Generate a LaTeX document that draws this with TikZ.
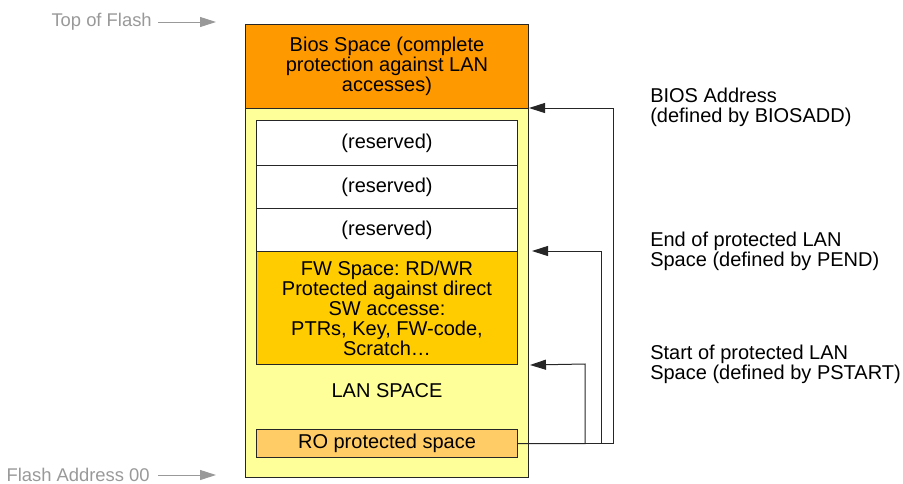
\documentclass[tikz,border=0pt]{standalone}
\usepackage{fontspec}
\setmainfont{Liberation Sans}
\frenchspacing
\usetikzlibrary{arrows.meta,calc}
\definecolor{biosc}{HTML}{FF9900}
\definecolor{lanc}{HTML}{FFFF99}
\definecolor{fwc}{HTML}{FFCC00}
\definecolor{roc}{HTML}{FFCC66}
\definecolor{lblgray}{HTML}{999999}
\tikzset{
  blk/.style={draw=black!85, line width=0.75pt, inner sep=0pt, anchor=north west, align=center,
    font=\fontsize{15}{15}\selectfont},
  sidelbl/.style={anchor=west, align=left, inner sep=0pt, font=\fontsize{15}{15}\selectfont},
  graylbl/.style={anchor=east, inner sep=0pt, text=lblgray, font=\fontsize{13.8}{15}\selectfont},
  grayarr/.style={draw=lblgray, line width=0.75pt, -{Triangle[length=12pt,width=7.5pt]}},
  conn/.style={draw=black!85, line width=0.75pt, -{Triangle[length=12pt,width=7.5pt]}}
}
\begin{document}
\begin{tikzpicture}[x=0.75pt,y=-0.75pt]
\useasboundingbox (0,0) rectangle (903,483);
% main blocks
\node[blk, fill=biosc, minimum width=212.25pt, minimum height=63pt] (bios) at (245,24) {Bios Space (complete\\protection against LAN\\accesses)};
\node[blk, fill=lanc, minimum width=212.25pt, minimum height=276.75pt] (lan) at (245,108) {};
\node[blk, fill=white, minimum width=195.75pt, minimum height=33.75pt] (r1) at (256,120) {(reserved)};
\node[blk, fill=white, minimum width=195.75pt, minimum height=32.25pt] (r2) at (256,165) {(reserved)};
\node[blk, fill=white, minimum width=195.75pt, minimum height=32.25pt] (r3) at (256,208) {(reserved)};
\node[blk, fill=fwc, minimum width=195.75pt, minimum height=84.75pt] (fw) at (256,251) {FW Space: RD/WR\\Protected against direct\\SW accesse:\\PTRs, Key, FW-code,\\Scratch…};
\node[inner sep=0pt, font=\fontsize{15}{15}\selectfont] (lantxt) at (387,391) {LAN SPACE};
\node[blk, fill=roc, minimum width=195.75pt, minimum height=21pt] (ro) at (256,429) {RO protected space};
% connectors
\coordinate (b1) at (613,108);
\coordinate (b2) at (601,251);
\coordinate (b3) at (585,364);
\draw[conn] (ro.east) -| (b1) -- (lan.north east);
\draw[conn] (ro.east) -| (b2) -- ($(lan.east |- fw.north)+(3,0)$);
\draw[conn] (ro.east) -| (b3) -- ($(lan.east |- fw.south)+(1,0)$);
% right labels
\node[sidelbl] (l1) at (650,107) {BIOS Address\\(defined by BIOSADD)};
\node[sidelbl] (l2) at (650,251) {End of protected LAN\\Space (defined by PEND)};
\node[sidelbl] (l3) at (650,364.5) {Start of protected LAN\\Space (defined by PSTART)};
% left labels
\node[graylbl] (top) at (152,22) {Top of Flash};
\coordinate (topend) at (216,22);
\draw[grayarr] (top.east) ++(6,0) -- (topend);
\node[graylbl] (bot) at (150,474.5) {Flash Address 00};
\coordinate (botend) at (216,475);
\draw[grayarr] (bot.east |- botend) ++(8,0) -- (botend);
\end{tikzpicture}
\end{document}
